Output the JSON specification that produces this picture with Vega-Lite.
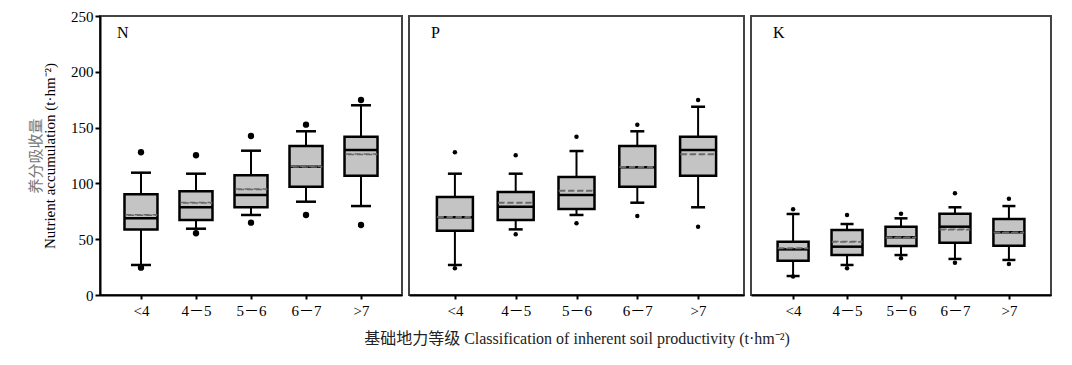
{
  "$schema": "https://vega.github.io/schema/vega-lite/v6.json",
  "padding": {"left": 27, "top": 8, "right": 5, "bottom": 5},
  "background": "white",
  "spacing": 7,
  "align": "none",
  "bounds": "flush",
  "datasets": {
    "box": [
      {"n": "N", "cls": "<4", "lo": 26.9, "q1": 58.8, "med": 68.7, "mean": 71.7, "q3": 90.2, "hi": 109.6},
      {"n": "N", "cls": "4－5", "lo": 59.4, "q1": 67.2, "med": 78.6, "mean": 82.7, "q3": 92.9, "hi": 108.7},
      {"n": "N", "cls": "5－6", "lo": 71.7, "q1": 78.6, "med": 89.6, "mean": 94.7, "q3": 107.2, "hi": 129.3},
      {"n": "N", "cls": "6－7", "lo": 83.6, "q1": 97.0, "med": 115.0, "mean": 115.0, "q3": 133.5, "hi": 146.7},
      {"n": "N", "cls": ">7", "lo": 79.7, "q1": 106.9, "med": 129.9, "mean": 126.1, "q3": 141.8, "hi": 170.0},
      {"n": "P", "cls": "<4", "lo": 26.9, "q1": 57.6, "med": 69.6, "mean": 70.0, "q3": 87.8, "hi": 108.7},
      {"n": "P", "cls": "4－5", "lo": 58.8, "q1": 67.2, "med": 79.1, "mean": 82.7, "q3": 92.3, "hi": 108.7},
      {"n": "P", "cls": "5－6", "lo": 71.7, "q1": 77.1, "med": 89.6, "mean": 93.5, "q3": 105.7, "hi": 129.0},
      {"n": "P", "cls": "6－7", "lo": 82.7, "q1": 97.0, "med": 114.4, "mean": 114.6, "q3": 133.5, "hi": 146.7},
      {"n": "P", "cls": ">7", "lo": 78.6, "q1": 106.9, "med": 129.9, "mean": 126.1, "q3": 141.8, "hi": 168.7},
      {"n": "K", "cls": "<4", "lo": 17.0, "q1": 30.7, "med": 40.9, "mean": 41.8, "q3": 47.8, "hi": 72.6},
      {"n": "K", "cls": "4－5", "lo": 26.9, "q1": 35.8, "med": 43.3, "mean": 47.8, "q3": 58.2, "hi": 63.6},
      {"n": "K", "cls": "5－6", "lo": 35.8, "q1": 43.9, "med": 51.7, "mean": 51.5, "q3": 61.2, "hi": 68.7},
      {"n": "K", "cls": "6－7", "lo": 32.3, "q1": 46.9, "med": 61.2, "mean": 58.8, "q3": 72.9, "hi": 78.6},
      {"n": "K", "cls": ">7", "lo": 31.4, "q1": 44.2, "med": 56.2, "mean": 56.0, "q3": 68.1, "hi": 79.7}
    ],
    "out": [
      {"n": "N", "cls": "<4", "val": 127.9}, {"n": "N", "cls": "<4", "val": 24.5},
      {"n": "N", "cls": "4－5", "val": 125.2}, {"n": "N", "cls": "4－5", "val": 55.3},
      {"n": "N", "cls": "5－6", "val": 142.5}, {"n": "N", "cls": "5－6", "val": 64.8},
      {"n": "N", "cls": "6－7", "val": 152.6}, {"n": "N", "cls": "6－7", "val": 71.7},
      {"n": "N", "cls": ">7", "val": 174.7}, {"n": "N", "cls": ">7", "val": 62.7},
      {"n": "P", "cls": "<4", "val": 127.9}, {"n": "P", "cls": "<4", "val": 23.9},
      {"n": "P", "cls": "4－5", "val": 125.2}, {"n": "P", "cls": "4－5", "val": 54.4},
      {"n": "P", "cls": "5－6", "val": 141.8}, {"n": "P", "cls": "5－6", "val": 64.2},
      {"n": "P", "cls": "6－7", "val": 152.6}, {"n": "P", "cls": "6－7", "val": 70.8},
      {"n": "P", "cls": ">7", "val": 174.7}, {"n": "P", "cls": ">7", "val": 61.2},
      {"n": "K", "cls": "<4", "val": 76.8}, {"n": "K", "cls": "<4", "val": 16.5},
      {"n": "K", "cls": "4－5", "val": 71.7}, {"n": "K", "cls": "4－5", "val": 23.9},
      {"n": "K", "cls": "5－6", "val": 72.9}, {"n": "K", "cls": "5－6", "val": 32.9},
      {"n": "K", "cls": "6－7", "val": 91.1}, {"n": "K", "cls": "6－7", "val": 28.9},
      {"n": "K", "cls": ">7", "val": 86.3}, {"n": "K", "cls": ">7", "val": 27.8}
    ]
  },
  "hconcat": [
    {
      "width": 302, "height": 279,
      "encoding": {
        "x": {"field": "cls", "type": "ordinal",
              "scale": {"type": "point", "domain": ["<4", "4－5", "5－6", "6－7", ">7"], "padding": 0.745},
              "axis": {"title": null, "labelAngle": 0, "labelPadding": 4, "tickSize": 4}}
      },
      "resolve": {"scale": {"y": "independent"}},
      "layer": [
        {"data": {"name": "box"}, "transform": [{"filter": "datum.n === 'N'"}],
         "mark": {"type": "rule", "stroke": "black", "strokeWidth": 2},
         "encoding": {"y": {"field": "lo", "type": "quantitative", "scale": {"domain": [0, 250]},
                            "axis": {"title": "Nutrient accumulation (t·hm⁻²)", "values": [0, 50, 100, 150, 200, 250], "tickSize": 5, "labelPadding": 2, "titlePadding": 13}},
                      "y2": {"field": "hi"}}},
        {"data": {"name": "box"}, "transform": [{"filter": "datum.n === 'N'"}],
         "mark": {"type": "bar", "size": 33, "fill": "#c4c4c4", "stroke": "black", "strokeWidth": 2.5, "opacity": 1},
         "encoding": {"y": {"field": "q1", "type": "quantitative", "scale": {"domain": [0, 250]}, "axis": null}, "y2": {"field": "q3"}}},
        {"data": {"name": "box"}, "transform": [{"filter": "datum.n === 'N'"}],
         "mark": {"type": "tick", "size": 33, "thickness": 2.5, "color": "black", "opacity": 1},
         "encoding": {"y": {"field": "med", "type": "quantitative", "scale": {"domain": [0, 250]}, "axis": null}}},
        {"data": {"name": "box"}, "transform": [{"filter": "datum.n === 'N'"}],
         "mark": {"type": "tick", "size": 31, "thickness": 0.5, "filled": false, "stroke": "#6a6a6a", "strokeWidth": 1.5, "strokeDash": [6, 3], "opacity": 1},
         "encoding": {"y": {"field": "mean", "type": "quantitative", "scale": {"domain": [0, 250]}, "axis": null}}},
        {"data": {"name": "box"}, "transform": [{"filter": "datum.n === 'N'"}, {"fold": ["lo", "hi"], "as": ["k", "v"]}],
         "mark": {"type": "tick", "size": 20, "thickness": 2.5, "color": "black", "opacity": 1},
         "encoding": {"y": {"field": "v", "type": "quantitative", "scale": {"domain": [0, 250]}, "axis": null}}},
        {"data": {"name": "out"}, "transform": [{"filter": "datum.n === 'N'"}],
         "mark": {"type": "point", "filled": true, "size": 40, "color": "black", "opacity": 1},
         "encoding": {"y": {"field": "val", "type": "quantitative", "scale": {"domain": [0, 250]},
                            "axis": {"orient": "left", "title": "养分吸收量", "titleColor": "#777", "labels": false, "ticks": false, "domain": false, "titlePadding": 57}}}},
        {"data": {"values": [{}]},
         "mark": {"type": "text", "text": "N", "font": "Liberation Serif", "fontSize": 16, "align": "left", "baseline": "alphabetic", "dx": -24, "color": "black"},
         "encoding": {"x": {"datum": "<4"}, "y": {"datum": 230, "type": "quantitative", "scale": {"domain": [0, 250]}, "axis": null}}}
      ]
    },
    {
      "width": 335, "height": 279,
      "encoding": {
        "x": {"field": "cls", "type": "ordinal",
              "scale": {"type": "point", "domain": ["<4", "4－5", "5－6", "6－7", ">7"], "padding": 0.755},
              "axis": {"title": "基础地力等级 Classification of inherent soil productivity (t·hm⁻²)", "titleColor": "#222", "titleFontSize": 16, "titlePadding": 12, "labelAngle": 0, "labelPadding": 4, "tickSize": 4}}
      },
      "layer": [
        {"data": {"name": "box"}, "transform": [{"filter": "datum.n === 'P'"}],
         "mark": {"type": "rule", "stroke": "black", "strokeWidth": 2},
         "encoding": {"y": {"field": "lo", "type": "quantitative", "scale": {"domain": [0, 250]}, "axis": null}, "y2": {"field": "hi"}}},
        {"data": {"name": "box"}, "transform": [{"filter": "datum.n === 'P'"}],
         "mark": {"type": "bar", "size": 36, "fill": "#c4c4c4", "stroke": "black", "strokeWidth": 2.5, "opacity": 1},
         "encoding": {"y": {"field": "q1", "type": "quantitative", "scale": {"domain": [0, 250]}, "axis": null}, "y2": {"field": "q3"}}},
        {"data": {"name": "box"}, "transform": [{"filter": "datum.n === 'P'"}],
         "mark": {"type": "tick", "size": 36, "thickness": 2.5, "color": "black", "opacity": 1},
         "encoding": {"y": {"field": "med", "type": "quantitative", "scale": {"domain": [0, 250]}, "axis": null}}},
        {"data": {"name": "box"}, "transform": [{"filter": "datum.n === 'P'"}],
         "mark": {"type": "tick", "size": 34, "thickness": 0.5, "filled": false, "stroke": "#6a6a6a", "strokeWidth": 1.5, "strokeDash": [6, 3], "opacity": 1},
         "encoding": {"y": {"field": "mean", "type": "quantitative", "scale": {"domain": [0, 250]}, "axis": null}}},
        {"data": {"name": "box"}, "transform": [{"filter": "datum.n === 'P'"}, {"fold": ["lo", "hi"], "as": ["k", "v"]}],
         "mark": {"type": "tick", "size": 14, "thickness": 2.5, "color": "black", "opacity": 1},
         "encoding": {"y": {"field": "v", "type": "quantitative", "scale": {"domain": [0, 250]}, "axis": null}}},
        {"data": {"name": "out"}, "transform": [{"filter": "datum.n === 'P'"}],
         "mark": {"type": "point", "filled": true, "size": 20, "color": "black", "opacity": 1},
         "encoding": {"y": {"field": "val", "type": "quantitative", "scale": {"domain": [0, 250]}, "axis": null}}},
        {"data": {"values": [{}]},
         "mark": {"type": "text", "text": "P", "font": "Liberation Serif", "fontSize": 16, "align": "left", "baseline": "alphabetic", "dx": -24, "color": "black"},
         "encoding": {"x": {"datum": "<4"}, "y": {"datum": 230, "type": "quantitative", "scale": {"domain": [0, 250]}, "axis": null}}}
      ]
    },
    {
      "width": 300, "height": 279,
      "encoding": {
        "x": {"field": "cls", "type": "ordinal",
              "scale": {"type": "point", "domain": ["<4", "4－5", "5－6", "6－7", ">7"], "padding": 0.78},
              "axis": {"title": null, "labelAngle": 0, "labelPadding": 4, "tickSize": 4}}
      },
      "layer": [
        {"data": {"name": "box"}, "transform": [{"filter": "datum.n === 'K'"}],
         "mark": {"type": "rule", "stroke": "black", "strokeWidth": 2},
         "encoding": {"y": {"field": "lo", "type": "quantitative", "scale": {"domain": [0, 250]}, "axis": null}, "y2": {"field": "hi"}}},
        {"data": {"name": "box"}, "transform": [{"filter": "datum.n === 'K'"}],
         "mark": {"type": "bar", "size": 31, "fill": "#c4c4c4", "stroke": "black", "strokeWidth": 2.5, "opacity": 1},
         "encoding": {"y": {"field": "q1", "type": "quantitative", "scale": {"domain": [0, 250]}, "axis": null}, "y2": {"field": "q3"}}},
        {"data": {"name": "box"}, "transform": [{"filter": "datum.n === 'K'"}],
         "mark": {"type": "tick", "size": 31, "thickness": 2.5, "color": "black", "opacity": 1},
         "encoding": {"y": {"field": "med", "type": "quantitative", "scale": {"domain": [0, 250]}, "axis": null}}},
        {"data": {"name": "box"}, "transform": [{"filter": "datum.n === 'K'"}],
         "mark": {"type": "tick", "size": 29, "thickness": 0.5, "filled": false, "stroke": "#6a6a6a", "strokeWidth": 1.5, "strokeDash": [6, 3], "opacity": 1},
         "encoding": {"y": {"field": "mean", "type": "quantitative", "scale": {"domain": [0, 250]}, "axis": null}}},
        {"data": {"name": "box"}, "transform": [{"filter": "datum.n === 'K'"}, {"fold": ["lo", "hi"], "as": ["k", "v"]}],
         "mark": {"type": "tick", "size": 13, "thickness": 2.5, "color": "black", "opacity": 1},
         "encoding": {"y": {"field": "v", "type": "quantitative", "scale": {"domain": [0, 250]}, "axis": null}}},
        {"data": {"name": "out"}, "transform": [{"filter": "datum.n === 'K'"}],
         "mark": {"type": "point", "filled": true, "size": 20, "color": "black", "opacity": 1},
         "encoding": {"y": {"field": "val", "type": "quantitative", "scale": {"domain": [0, 250]}, "axis": null}}},
        {"data": {"values": [{}]},
         "mark": {"type": "text", "text": "K", "font": "Liberation Serif", "fontSize": 16, "align": "left", "baseline": "alphabetic", "dx": -20, "color": "black"},
         "encoding": {"x": {"datum": "<4"}, "y": {"datum": 230, "type": "quantitative", "scale": {"domain": [0, 250]}, "axis": null}}}
      ]
    }
  ],
  "config": {
    "view": {"stroke": "#444", "strokeWidth": 2},
    "axis": {"domainColor": "black", "domainWidth": 2, "tickColor": "black", "tickWidth": 2, "grid": false,
             "labelFont": "Liberation Serif, Noto Sans CJK SC", "labelFontSize": 15, "labelColor": "black",
             "titleFont": "Liberation Serif, Noto Sans CJK SC", "titleFontSize": 15, "titleFontWeight": "normal", "titleColor": "black"}
  }
}
